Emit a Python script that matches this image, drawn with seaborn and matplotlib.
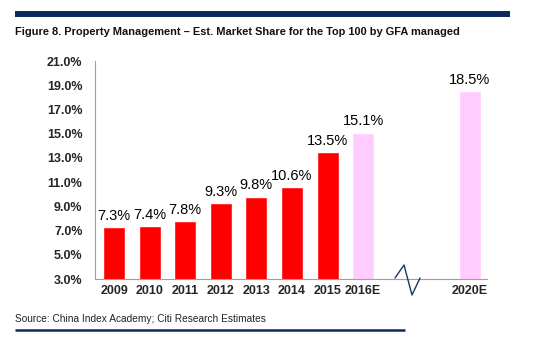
import matplotlib
matplotlib.use("Agg")
import matplotlib.pyplot as plt
import seaborn as sns
import pandas as pd
from matplotlib.lines import Line2D

years = ["2009", "2010", "2011", "2012", "2013", "2014", "2015", "2016E", "2020E"]
share = [7.3, 7.4, 7.8, 9.3, 9.8, 10.6, 13.5, 15.1, 18.5]
kind = ["Actual"] * 7 + ["Estimate"] * 2
yticks = [3, 5, 7, 9, 11, 13, 15, 17, 19, 21]

sns.set_theme(style="white")
plt.rcParams["font.family"] = ["Liberation Sans", "DejaVu Sans"]

df = pd.DataFrame({"year": years, "share": share, "kind": kind})
order = years[:8] + ["gap1", "gap2"] + years[8:]

fig = plt.figure(figsize=(5.43, 3.45), dpi=100)
ax = fig.add_axes([0.175, 0.191, 0.722, 0.632])

sns.barplot(data=df, x="year", y="share", hue="kind", order=order,
            palette={"Actual": "#FF0000", "Estimate": "#FFCCFF"},
            width=0.62, dodge=False, legend=False, ax=ax, saturation=1)

ax.set_ylim(3, 21)
ax.set_xlim(-0.534, 10.48)
ax.set_yticks(yticks)
ax.set_yticklabels([f"{v:.1f}%" for v in yticks], fontsize=9, fontweight="bold")
ax.set_xticks(range(len(order)))
ax.set_xticklabels([o if not o.startswith("gap") else "" for o in order],
                   fontsize=9, fontweight="bold")
ax.tick_params(axis="y", length=0, pad=9)
ax.tick_params(axis="x", length=0, pad=4)
ax.set_xlabel("")
ax.set_ylabel("")

for s in ["top", "right"]:
    ax.spines[s].set_visible(False)
for s in ["left", "bottom"]:
    ax.spines[s].set_color("#A0A0A0")
    ax.spines[s].set_linewidth(0.8)

pos = {o: i for i, o in enumerate(order)}
for y, v in zip(years, share):
    ax.text(pos[y], v + 0.35, f"{v:.1f}%", ha="center", va="bottom",
            fontsize=10.5, color="black")

# axis break marker between 2016E and 2020E
brk_x = [395, 404, 412, 420]
brk_y = [278, 265, 295, 278]
fig.add_artist(Line2D([x / 543 for x in brk_x], [1 - y / 345 for y in brk_y],
                      transform=fig.transFigure, color="#1F3558", lw=1.0))

# header and footer rules
fig.add_artist(Line2D([15 / 543, 510 / 543], [1 - 13.7 / 345] * 2,
                      transform=fig.transFigure, color="#0B2A5B", lw=4.3,
                      solid_capstyle="butt"))
fig.add_artist(Line2D([15 / 543, 405 / 543], [1 - 330 / 345] * 2,
                      transform=fig.transFigure, color="#0B2A5B", lw=1.8,
                      solid_capstyle="butt"))

fig.text(15 / 543, 1 - 32 / 345,
         "Figure 8. Property Management \u2013 Est. Market Share for the Top 100 by GFA managed",
         fontsize=7.9, fontweight="bold", va="center", ha="left", color="#111111")
fig.text(15 / 543, 1 - 319 / 345,
         "Source: China Index Academy; Citi Research Estimates",
         fontsize=7.3, va="center", ha="left", color="#222222")

fig.savefig("out.png", dpi=100)
